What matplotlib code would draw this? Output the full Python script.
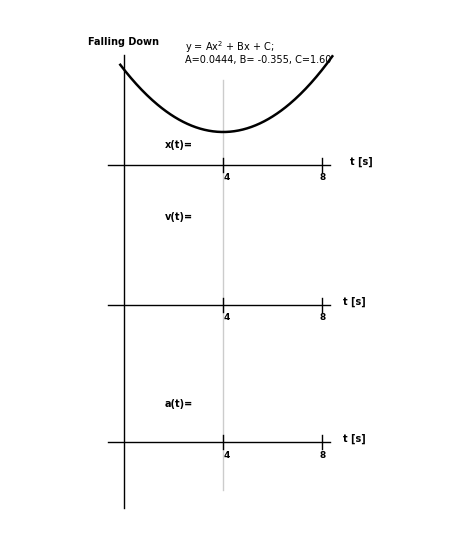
import numpy as np
import matplotlib.pyplot as plt

A, B, C = 0.0444, -0.355, 1.60
axis_rows = [165, 305, 442]          # pixel rows of the three time axes
labels = ["x(t)=", "v(t)=", "a(t)="]
label_rows = [145, 217, 404]
tick_vals = [4, 8]

W, H = 474, 542
fig = plt.figure(figsize=(W / 100, H / 100), dpi=100)
ax = fig.add_axes([0, 0, 1, 1])
ax.set_xlim(0, W)
ax.set_ylim(H, 0)
ax.axis("off")

x0, px_t = 124, 24.8                 # t=0 pixel column, pixels per second
def tx(t):
    return x0 + px_t * np.asarray(t)

# vertical axis and gray guide at t=4
ax.plot([x0, x0], [55, 508], color="black", lw=1)
ax.plot([tx(4), tx(4)], [80, 490], color="#cccccc", lw=1)

# curve
t = np.linspace(-0.15, 8.4, 200)
y = A * t**2 + B * t + C
ax.plot(tx(t), 132 + (0.8903 - y) * 88, color="black", lw=1.8)

for row, lab, lrow, tl_dx in zip(axis_rows, labels, label_rows, [0, -7, -7]):
    ax.plot([108, 330], [row, row], color="black", lw=1)
    for v in tick_vals:
        ax.plot([tx(v), tx(v)], [row - 7, row + 7], color="black", lw=1)
        ax.text(tx(v) + (4 if v == 4 else 0), row + 13, str(v), fontsize=6.5,
                fontweight="bold", ha="center", va="center")
    ax.text(350 + tl_dx, row - 3, "t [s]", fontsize=7, fontweight="bold",
            ha="left", va="center")
    ax.text(165, lrow, lab, fontsize=7, fontweight="bold", va="center")

ax.text(88, 42, "Falling Down", fontsize=7, fontweight="bold", va="center")
ax.text(185, 47, "y = Ax$^2$ + Bx + C;", fontsize=7, va="center")
ax.text(185, 60, "A=0.0444, B= -0.355, C=1.60", fontsize=7, va="center")

fig.savefig("out.png", dpi=100)
